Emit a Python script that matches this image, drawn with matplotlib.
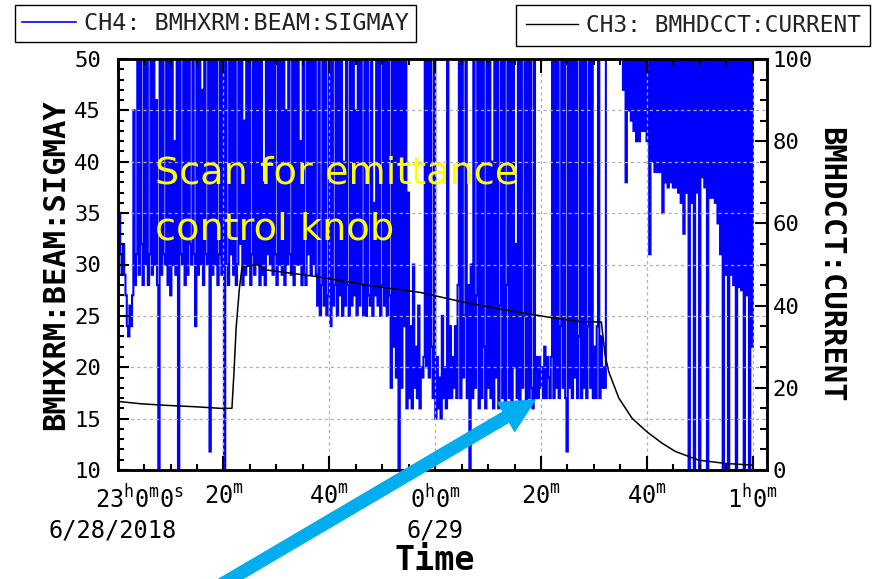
import numpy as np
import matplotlib
matplotlib.use('Agg')
import matplotlib.pyplot as plt
from matplotlib.patches import FancyArrowPatch
from matplotlib.lines import Line2D
from matplotlib.ticker import MultipleLocator, FixedLocator, FixedFormatter
import matplotlib.transforms as mtransforms

plt.rcParams['font.family'] = ['DejaVu Sans Mono']
plt.rcParams['mathtext.fontset'] = 'custom'
plt.rcParams['mathtext.rm'] = 'DejaVu Sans Mono'
plt.rcParams['path.simplify'] = False

# ---------------- data ----------------
sample_minutes = 0.248          # sampling interval of the SIGMAY channel (minutes after 23:00)

# CH4 BMHXRM:BEAM:SIGMAY readings (values >= 50 are off the top of the scale)
sigmay = [
    35, 35, 31, 29, 32, 29, 27, 24, 23, 26, 24, 27, 45, 28, 31, 50, 29, 50, 32, 28,
    50, 30, 50, 28, 31, 50, 29, 50, 30, 46, 28, 10, 50, 29, 50, 31, 30, 50, 28, 50,
    27, 50, 30, 42, 29, 50, 10, 50, 31, 30, 50, 28, 50, 29, 50, 32, 30, 50, 31, 24,
    50, 29, 50, 30, 47, 28, 50, 31, 30, 50, 11.8, 50, 29, 50, 30, 50, 28, 31, 50, 29,
    50, 10, 50, 30, 28, 50, 31, 50, 29, 50, 28, 30, 50, 32, 50, 28, 44, 29, 50, 30,
    50, 28, 31, 50, 29, 50, 30, 50, 28, 50, 29, 38, 28, 50, 31, 50, 30, 50, 29, 50,
    31, 28, 50, 30, 50, 29, 50, 28, 45, 30, 50, 31, 29, 50, 28, 50, 30, 50, 30, 42,
    28, 50, 29, 28, 50, 31, 50, 29, 50, 30, 50, 29, 26, 50, 25, 28, 50, 26, 50, 25,
    27, 50, 24, 50, 26, 28, 50, 25, 50, 27, 50, 25, 40, 26, 50, 28, 25, 50, 26, 50,
    27, 45, 25, 50, 26, 50, 28, 25, 50, 25, 50, 27, 26, 50, 25, 36, 27, 50, 26, 50,
    25, 28, 50, 26, 50, 25, 50, 27, 18, 50, 22, 50, 19, 50, 10, 50, 18, 50, 24, 50,
    16, 37, 17, 24, 16, 30, 18, 22, 17, 26, 16, 20, 19, 21, 50, 20, 50, 19, 50, 22,
    17, 50, 15, 21, 16, 19, 15, 25, 17, 20, 16, 50, 17, 24, 17, 21, 18, 24, 17, 28,
    50, 17, 50, 19, 25, 50, 17, 28, 10, 30, 17, 50, 18, 27, 50, 16, 50, 17, 50, 22,
    16, 50, 18, 50, 17, 40, 16, 50, 19, 50, 16, 26, 50, 17, 50, 16, 28, 50, 17, 50,
    16, 50, 20, 32, 17, 50, 16, 50, 18, 25, 50, 16, 50, 17, 50, 18, 16, 50, 17, 21,
    17, 21, 18, 20, 17, 22, 17, 21, 19, 17, 21, 50, 17, 50, 18, 50, 17, 24, 50, 18,
    50, 17, 11.8, 50, 18, 50, 17, 50, 19, 50, 17, 23, 50, 17, 50, 18, 50, 17, 24, 50,
    18, 50, 17, 22, 17, 24, 50, 17, 23, 18, 20, 18, 55, 55, 55, 55, 55, 55, 55, 55,
    55, 55, 55, 55, 55, 47, 55, 38, 55, 45, 55, 44, 55, 43, 55, 42, 55, 42, 55, 43,
    55, 43, 55, 42, 55, 31, 55, 40, 55, 39, 55, 39, 55, 39, 55, 35, 55, 38, 55, 37.5,
    55, 38, 55, 37.5, 55, 37.5, 55, 37, 55, 36, 55, 33, 55, 37, 55, 10, 55, 36, 55, 10,
    55, 37, 55, 10, 55, 38.5, 55, 37.5, 55, 10, 55, 36.5, 55, 36.5, 55, 36, 55, 34, 55, 31,
    55, 10, 55, 29, 55, 10, 55, 29, 55, 28, 55, 10, 55, 27.8, 55, 27.5, 55, 10, 55, 27,
    55, 10, 55, 22, 55,
]

# CH3 BMHDCCT:CURRENT (minutes after 23:00, mA)
current_t = [0, 4.5, 9.6, 14.5, 19.5, 21.6, 22.0, 22.4, 23.0, 23.5, 26.3, 27.9, 37.4,
             46.9, 57.2, 64.8, 72.0, 82.3, 87.4, 91.4, 91.6, 92.1, 92.8, 94.7, 97.2,
             100.0, 102.9, 105.4, 109.8, 114.8, 119.9]
current_v = [16.7, 16.1, 15.7, 15.4, 15.0, 15.0, 24.0, 34.6, 44.0, 49.3, 50.0, 48.7, 47.1,
             45.0, 43.2, 41.0, 39.2, 37.0, 36.1, 36.0, 33.7, 28.0, 23.9, 17.5, 12.6,
             9.3, 6.5, 4.5, 2.4, 1.6, 1.2]

xtick_minutes = [0, 20, 40, 60, 80, 100, 120]
xtick_labels = [r'23$^{\mathrm{h}}$0$^{\mathrm{m}}$0$^{\mathrm{s}}$', r'20$^{\mathrm{m}}$',
                r'40$^{\mathrm{m}}$', r'0$^{\mathrm{h}}$0$^{\mathrm{m}}$', r'20$^{\mathrm{m}}$',
                r'40$^{\mathrm{m}}$', r'1$^{\mathrm{h}}$0$^{\mathrm{m}}$']
date_minutes = [0, 60]
date_labels = ['6/28/2018', '6/29']
left_ticks = [10, 15, 20, 25, 30, 35, 40, 45, 50]
right_ticks = [0, 20, 40, 60, 80, 100]
legend_ch4 = 'CH4: BMHXRM:BEAM:SIGMAY'
legend_ch3 = 'CH3: BMHDCCT:CURRENT'
note_text = 'Scan for emittance\ncontrol knob'

# ---------------- figure ----------------
W, H = 875, 579
fig = plt.figure(figsize=(W / 100, H / 100), dpi=100)
ax = fig.add_axes([117.6 / W, 1 - 470 / H, 649.4 / W, 411 / H])
ax2 = ax.twinx()

t_sig = np.arange(len(sigmay)) * sample_minutes
ax.plot(t_sig, sigmay, color='#0000ff', lw=1.5, drawstyle='steps-post', zorder=2,
        snap=False, solid_joinstyle='miter')
ax2.plot(current_t, current_v, color='black', lw=1.1, zorder=3)

ax.set_xlim(0, 122.7)
ax.set_ylim(10, 50)
ax2.set_ylim(0, 100)

# grid
ax.set_axisbelow(False)
ax.grid(True, which='major', color='#b0b0b0', linestyle=(0, (2.5, 2.5)), lw=0.9, zorder=4)

# ticks
ax.xaxis.set_major_locator(FixedLocator(xtick_minutes))
ax.xaxis.set_major_formatter(FixedFormatter(xtick_labels))
ax.xaxis.set_minor_locator(MultipleLocator(5))
ax.yaxis.set_major_locator(FixedLocator(left_ticks))
ax.yaxis.set_minor_locator(MultipleLocator(1))
ax2.yaxis.set_major_locator(FixedLocator(right_ticks))
ax2.yaxis.set_minor_locator(MultipleLocator(5))

ax.tick_params(axis='x', which='both', direction='in', top=True, bottom=True,
               width=1.5, labelsize=17, pad=11)
ax.tick_params(axis='x', which='major', length=10)
ax.tick_params(axis='x', which='minor', length=4)
ax.tick_params(axis='y', which='both', direction='in', left=True, right=False,
               width=1.5, labelsize=16, pad=12)
ax.tick_params(axis='y', which='major', length=8)
ax.tick_params(axis='y', which='minor', length=4)
ax2.tick_params(axis='y', which='both', direction='in', width=1.5, labelsize=16, pad=4)
ax2.tick_params(axis='y', which='major', length=9)
ax2.tick_params(axis='y', which='minor', length=5)

# shift first x label a bit to the right like the reference
lbl0 = ax.xaxis.get_majorticklabels()[0]
lbl0.set_transform(lbl0.get_transform() + mtransforms.ScaledTranslation(22 / 100, 0, fig.dpi_scale_trans))

for a in (ax, ax2):
    for s in a.spines.values():
        s.set_linewidth(1.8)
        s.set_color('black')

# date labels under the ticks
date_trans = mtransforms.blended_transform_factory(ax.transData, fig.transFigure)
for m, d in zip(date_minutes, date_labels):
    ax.text(m - 1.0 if m == 0 else m, 1 - 530 / H, d, transform=date_trans,
            ha='center', va='center', fontsize=17, clip_on=False)

# axis titles
fig.text(56 / W, 1 - 265 / H, 'BMHXRM:BEAM:SIGMAY', rotation=90, ha='center', va='center',
         fontsize=22, fontweight='bold')
fig.text(831 / W, 1 - 265 / H, 'BMHDCCT:CURRENT', rotation=270, ha='center', va='center',
         fontsize=22, fontweight='bold')
fig.text(435 / W, 1 - 561 / H, 'Time', ha='center', va='center', fontsize=24, fontweight='bold')

# legends
leg1 = fig.legend(handles=[Line2D([], [], color='#0000ff', lw=1.2)], labels=[legend_ch4],
                  loc='upper left', bbox_to_anchor=(15 / W, 1 - 5 / H), fancybox=False,
                  edgecolor='black', framealpha=1, fontsize=16.8, handlelength=2.3,
                  handletextpad=0.35, borderpad=0.3, borderaxespad=0, labelcolor='#222222')
leg1.get_frame().set_linewidth(1.0)
leg2 = fig.legend(handles=[Line2D([], [], color='black', lw=1.0)], labels=[legend_ch3],
                  loc='upper right', bbox_to_anchor=(870 / W, 1 - 5 / H), fancybox=False,
                  edgecolor='black', framealpha=1, fontsize=16.4, handlelength=2.3,
                  handletextpad=0.35, borderpad=0.4, borderaxespad=0, labelcolor='#222222')
leg2.get_frame().set_linewidth(1.0)

# annotation
fig.text(155 / W, 1 - 155 / H, note_text, ha='left', va='top', fontsize=27.5,
         family='DejaVu Sans', color='#ffff00', linespacing=1.72, zorder=10)
arrow = FancyArrowPatch(posA=(212 / W, 1 - 590 / H), posB=(535 / W, 1 - 400 / H),
                        transform=fig.transFigure,
                        arrowstyle='simple,head_length=24,head_width=24,tail_width=8.5',
                        mutation_scale=1, color='#00aeef', shrinkA=0, shrinkB=0, zorder=11)
fig.patches.append(arrow)

fig.savefig('out.png', dpi=100)
